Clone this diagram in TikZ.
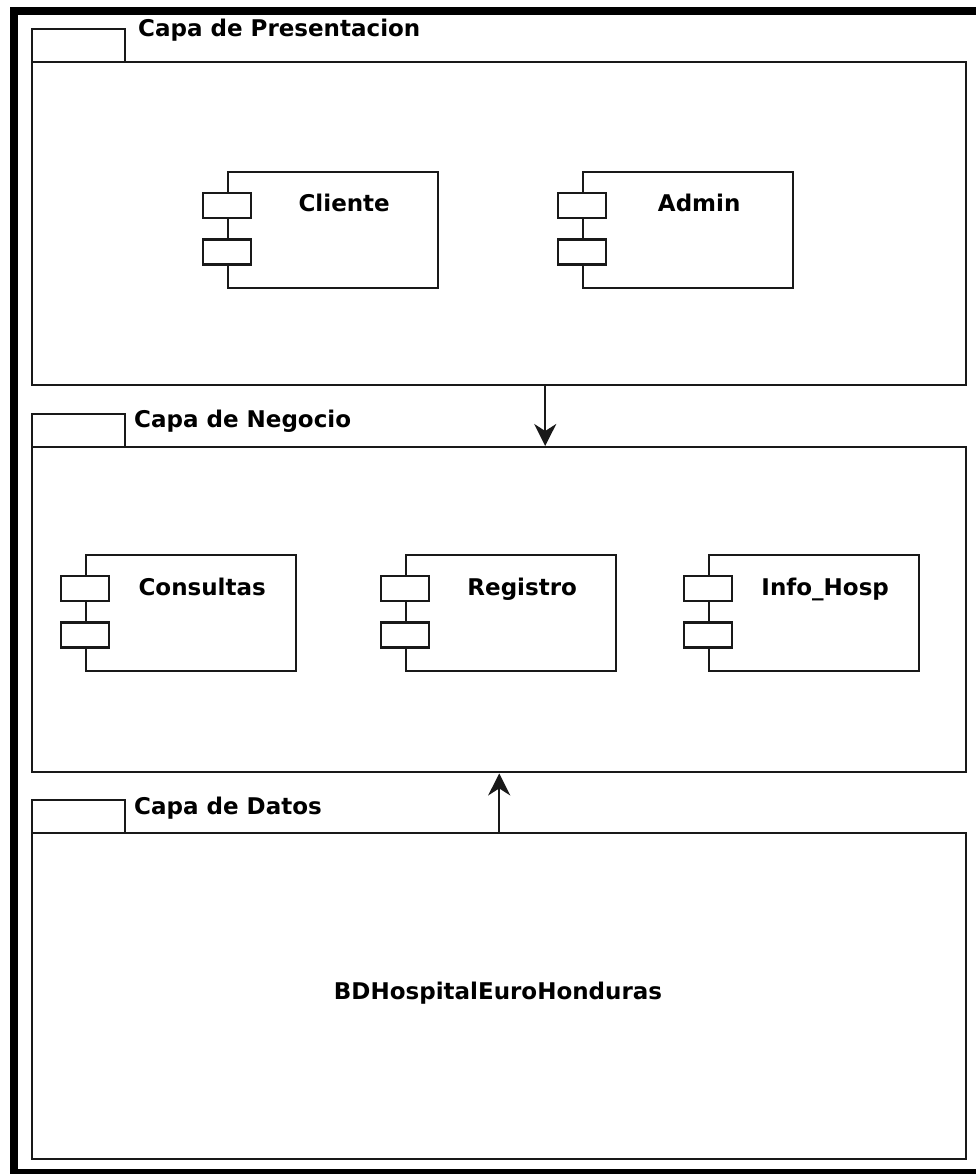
\documentclass[tikz,border=0pt]{standalone}
\usepackage{fontspec}
\setmainfont{DejaVu Sans}
\usetikzlibrary{arrows.meta}
\begin{document}
\begin{tikzpicture}[x=1pt,y=-1pt,
  edge/.style={line width=2.4pt, draw=black!90},
  layer/.style={edge, rectangle, inner sep=0pt, anchor=north west},
  comp/.style={edge, rectangle, inner sep=0pt, anchor=north west,
    minimum width=210pt, minimum height=116pt},
  port/.style={edge, rectangle, fill=white, inner sep=0pt,
    minimum width=48pt, minimum height=25pt},
  title/.style={anchor=base west, inner sep=0pt, font=\fontsize{23}{27}\selectfont\bfseries},
  ctext/.style={anchor=base, inner sep=0pt, font=\fontsize{23}{27}\selectfont\bfseries},
  flow/.style={edge, -{Stealth[length=22pt,width=22pt,inset=7pt]}}
]
\useasboundingbox (0,0) rectangle (976,1174);
\clip (0,0) rectangle (976,1174);
\fill[white] (0,0) rectangle (976,1174);

% heavy outer frame
\draw[line width=8.5pt] (14,11) rectangle (990,1173);

% presentation layer
\node[layer, minimum width=93pt, minimum height=33pt] (prestab) at (31,28) {};
\node[layer, minimum width=934pt, minimum height=323pt] (pres) at (31,61) {};
\node[title] (prestitle) at (138,37) {Capa de Presentacion};

% business layer
\node[layer, minimum width=93pt, minimum height=33pt] (negtab) at (31,413) {};
\node[layer, minimum width=934pt, minimum height=325pt] (neg) at (31,446) {};
\node[title] (negtitle) at (134,427) {Capa de Negocio};

% data layer
\node[layer, minimum width=93pt, minimum height=33pt] (dattab) at (31,799) {};
\node[layer, minimum width=934pt, minimum height=326pt] (dat) at (31,832) {};
\node[title] (dattitle) at (134,814) {Capa de Datos};
\node[ctext, anchor=center] (bd) at (498,993) {BDHospitalEuroHonduras};

% components
\foreach \name/\txt/\px/\py in {cli/Cliente/227/171, adm/Admin/582/171,
    con/Consultas/85/554, reg/Registro/405/554, inf/Info\_Hosp/708/554} {
  \node[comp] (\name) at (\px,\py) {};
  \node[port] (\name p1) at ([yshift=-34.5pt]\name.north west) {};
  \node[port] (\name p2) at ([yshift=-81pt]\name.north west) {};
  \node[ctext] (\name t) at ([xshift=11pt,yshift=-41pt]\name.north) {\txt};
}

% dependencies between layers
\draw[flow] ([xshift=46pt]pres.south) -- ([xshift=46pt]neg.north);
\draw[flow] (dat.north) -- (neg.south);
\end{tikzpicture}
\end{document}
